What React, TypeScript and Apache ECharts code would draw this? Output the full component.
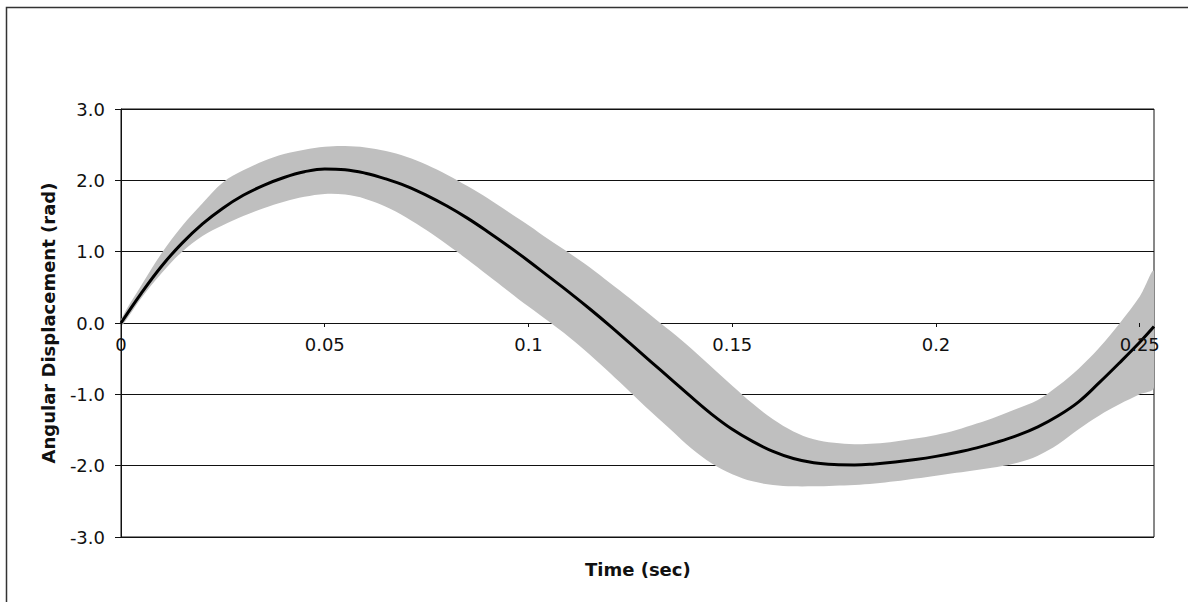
import React, { useEffect, useRef } from "react";
import * as echarts from "echarts";

// Sample times (s) with the mean angular displacement and the spread band (rad)
const TIME = [
  0, 0.005, 0.01, 0.015, 0.02, 0.025, 0.03, 0.035, 0.04, 0.045, 0.05, 0.055,
  0.06, 0.065, 0.07, 0.075, 0.08, 0.085, 0.09, 0.095, 0.1, 0.105, 0.11, 0.115,
  0.12, 0.125, 0.13, 0.135, 0.14, 0.145, 0.15, 0.155, 0.16, 0.165, 0.17, 0.175,
  0.18, 0.185, 0.19, 0.195, 0.2, 0.205, 0.21, 0.215, 0.22, 0.225, 0.23, 0.235,
  0.24, 0.245, 0.25, 0.2535,
];

const MEAN = [
  0, 0.42, 0.8, 1.12, 1.39, 1.61, 1.79, 1.93, 2.04, 2.12, 2.16, 2.15,
  2.1, 2.02, 1.92, 1.79, 1.64, 1.47, 1.28, 1.08, 0.87, 0.65, 0.43, 0.2,
  -0.04, -0.29, -0.54, -0.79, -1.04, -1.28, -1.49, -1.66, -1.8, -1.9, -1.96, -1.985,
  -1.99, -1.975, -1.95, -1.915, -1.87, -1.815, -1.75, -1.67, -1.575, -1.455, -1.3, -1.105,
  -0.84, -0.56, -0.27, -0.05,
];

const UPPER = [
  0.05, 0.53, 0.98, 1.36, 1.68, 1.97, 2.14, 2.27, 2.37, 2.43, 2.47, 2.48,
  2.46, 2.41, 2.33, 2.22, 2.08, 1.92, 1.75, 1.56, 1.37, 1.17, 0.98, 0.78,
  0.56, 0.34, 0.11, -0.12, -0.36, -0.62, -0.88, -1.13, -1.35, -1.52, -1.63, -1.68,
  -1.7, -1.69, -1.66, -1.62, -1.57, -1.5, -1.41, -1.31, -1.2, -1.08, -0.88, -0.64,
  -0.35, -0.01, 0.37, 0.72,
];

const LOWER = [
  -0.05, 0.35, 0.7, 1.0, 1.22, 1.37, 1.5, 1.61, 1.7, 1.77, 1.81, 1.8,
  1.74, 1.63, 1.48, 1.3, 1.1, 0.89, 0.67, 0.45, 0.23, 0.02, -0.2, -0.44,
  -0.7, -0.97, -1.24, -1.5, -1.76, -1.97, -2.12, -2.22, -2.27, -2.29, -2.29, -2.28,
  -2.27, -2.25, -2.22, -2.18, -2.14, -2.1, -2.06, -2.02, -1.96, -1.86, -1.7, -1.49,
  -1.3, -1.14, -1.0, -0.9,
];

const X_MIN = 0;
const X_MAX = 0.2535;
const X_STEP = 0.05;
const Y_MIN = -3;
const Y_MAX = 3;
const Y_STEP = 1;

const X_TITLE = "Time (sec)";
const Y_TITLE = "Angular Displacement (rad)";

const FONT = 'Verdana, "DejaVu Sans", sans-serif';

const GRID_TOP = 109;
const GRID_HEIGHT = 428;

export default function App() {
  const ref = useRef<HTMLDivElement>(null);

  useEffect(() => {
    if (!ref.current) return;
    const chart = echarts.init(ref.current, null, { renderer: "svg" });

    const bandData = TIME.map((t, i) => [t, UPPER[i], LOWER[i]]);
    const meanData = TIME.map((t, i) => [t, MEAN[i]]);

    // Shaded spread: a single polygon running along the upper edge and back along the lower edge
    const renderBand = (params: any, api: any) => {
      if (params.dataIndex !== 0) return null;
      const top = TIME.map((t, i) => api.coord([t, UPPER[i]]));
      const bottom = TIME.map((t, i) => api.coord([t, LOWER[i]])).reverse();
      return {
        type: "polygon",
        shape: { points: top.concat(bottom), smooth: 0.35 },
        style: { fill: "#bfbfbf", stroke: "none" },
        silent: true,
      };
    };

    // x axis labels sit along the zero line of the y scale
    const zeroShift = -GRID_HEIGHT * (Y_MAX / (Y_MAX - Y_MIN));

    chart.setOption({
      animation: false,
      backgroundColor: "#ffffff",
      grid: {
        left: 121,
        top: GRID_TOP,
        width: 1033,
        height: GRID_HEIGHT,
        show: true,
        borderColor: "#111",
        borderWidth: 1,
        backgroundColor: "transparent",
      },
      xAxis: {
        type: "value",
        min: X_MIN,
        max: X_MAX,
        interval: X_STEP,
        offset: zeroShift,
        z: 10,
        axisLine: { show: false, onZero: false },
        axisTick: { show: true, inside: false, length: 4, lineStyle: { color: "#111" } },
        splitLine: { show: false },
        axisLabel: {
          color: "#111",
          fontFamily: FONT,
          fontSize: 18,
          margin: 12,
          showMaxLabel: false,
          formatter: (v: number) => String(parseFloat(v.toFixed(3))),
        },
      },
      yAxis: {
        type: "value",
        min: Y_MIN,
        max: Y_MAX,
        interval: Y_STEP,
        axisLine: { show: true, onZero: false, lineStyle: { color: "#111", width: 1 } },
        axisTick: { show: true, inside: false, length: 6, lineStyle: { color: "#111" } },
        splitLine: { show: true, lineStyle: { color: "#111", width: 1 } },
        axisLabel: {
          color: "#111",
          fontFamily: FONT,
          fontSize: 18,
          margin: 16,
          formatter: (v: number) => v.toFixed(1),
        },
        name: Y_TITLE,
        nameLocation: "middle",
        nameRotate: 90,
        nameGap: 64,
        nameTextStyle: {
          color: "#111",
          fontFamily: FONT,
          fontSize: 18,
          fontWeight: "bold",
        },
      },
      graphic: [
        {
          type: "rect",
          silent: true,
          shape: { x: 6.5, y: 7.5, width: 1400, height: 800 },
          style: { fill: "none", stroke: "#333", lineWidth: 1.5 },
        },
        {
          type: "text",
          left: 585,
          top: 560,
          style: {
            text: X_TITLE,
            fill: "#111",
            font: `bold 18px ${FONT}`,
          },
        },
      ],
      series: [
        {
          name: "band",
          type: "custom",
          data: bandData,
          encode: { x: 0, y: [1, 2] },
          renderItem: renderBand,
          clip: true,
          silent: true,
          z: 2,
        },
        {
          name: "mean",
          type: "line",
          data: meanData,
          smooth: 0.4,
          symbol: "none",
          lineStyle: { color: "#000", width: 3 },
          silent: true,
          z: 3,
        },
      ],
    });

    return () => chart.dispose();
  }, []);

  return (
    <div
      ref={ref}
      style={{ position: "fixed", left: 0, top: 0, width: 1188, height: 602, background: "#fff" }}
    />
  );
}
